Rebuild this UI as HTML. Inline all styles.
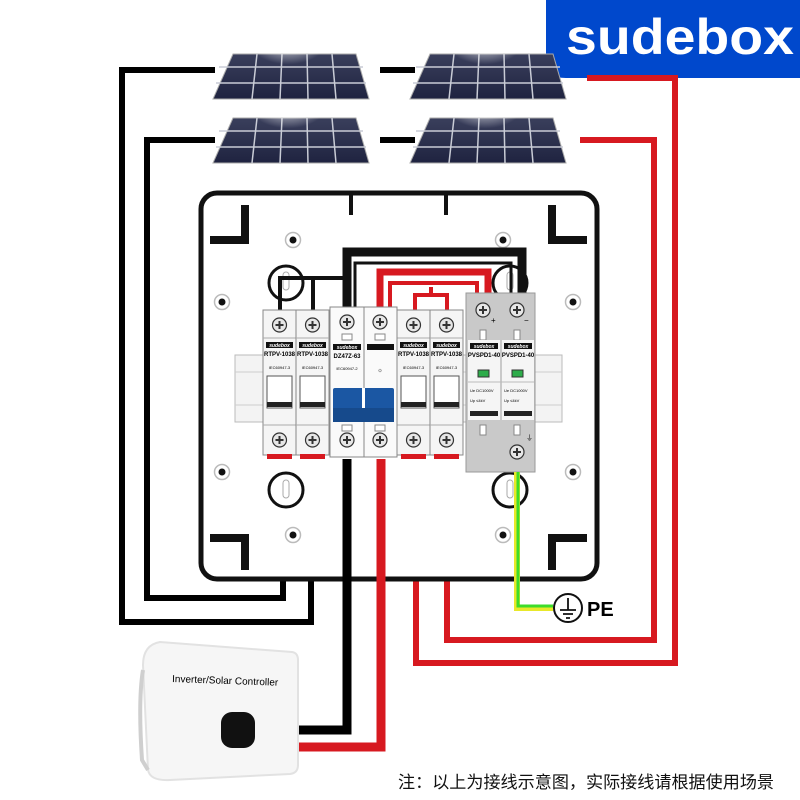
<!DOCTYPE html>
<html><head><meta charset="utf-8"><style>
html,body{margin:0;padding:0;background:#fff;}
svg{display:block;font-family:"Liberation Sans","Noto Sans CJK SC",sans-serif;}
</style></head><body>
<svg width="800" height="800" viewBox="0 0 800 800" xmlns="http://www.w3.org/2000/svg">
<defs>
<linearGradient id="pv" x1="0" y1="0" x2="0" y2="1"><stop offset="0" stop-color="#3a3f5c"/><stop offset="1" stop-color="#1f2340"/></linearGradient>
<radialGradient id="glare" cx="0.5" cy="0" r="0.6"><stop offset="0" stop-color="#fff" stop-opacity="0.95"/><stop offset="1" stop-color="#fff" stop-opacity="0"/></radialGradient>
<g id="screw"><circle r="7" fill="#e6e6e6" stroke="#333" stroke-width="1.2"/><path d="M-4 0H4M0 -4V4" stroke="#333" stroke-width="2"/></g>
<g id="hole"><circle r="7.5" fill="#fff" stroke="#bbb" stroke-width="1.5"/><circle r="3.5" fill="#111"/></g>
<g id="panel">
<polygon points="20,0 143,0 156,45 0,45" fill="url(#pv)" stroke="#aaa" stroke-width="1"/>
<path d="M6,13H150M3,29H153M44,0L39,45M69,0L67,45M94,0L95,45M119,0L123,45" stroke="#c9ccd6" stroke-width="1.5" fill="none"/>
<ellipse cx="75" cy="6" rx="34" ry="22" fill="url(#glare)"/>
</g>
</defs>

<!-- logo -->
<path d="M546,0H800V78H566Q546,78 546,58Z" fill="#0048cc"/>
<text x="566" y="54" fill="#fff" font-size="50" font-weight="bold" textLength="228" lengthAdjust="spacingAndGlyphs">sudebox</text>

<!-- top wires -->
<path d="M215,70H122V622H311V460" fill="none" stroke="#000" stroke-width="6"/>
<path d="M215,140H147V598H283V460" fill="none" stroke="#000" stroke-width="6"/>
<path d="M380,70H415M380,140H415" stroke="#000" stroke-width="6"/>
<path d="M587,78H675V663H416V460" fill="none" stroke="#d71920" stroke-width="6"/>
<path d="M580,140H654V640H447V460" fill="none" stroke="#d71920" stroke-width="6"/>

<!-- panels -->
<use href="#panel" x="213" y="54"/>
<use href="#panel" x="410" y="54"/>
<use href="#panel" x="213" y="118"/>
<use href="#panel" x="410" y="118"/>

<!-- enclosure -->
<rect x="201" y="193" width="396" height="386" rx="16" fill="#fff" stroke="#111" stroke-width="5"/>
<path d="M351,193V215M446,193V215" stroke="#111" stroke-width="4"/>
<path d="M210,240H245V205" fill="none" stroke="#111" stroke-width="8"/>
<path d="M552,205V240H587" fill="none" stroke="#111" stroke-width="8"/>
<path d="M210,538H245V570" fill="none" stroke="#111" stroke-width="8"/>
<path d="M552,570V538H587" fill="none" stroke="#111" stroke-width="8"/>
<use href="#hole" x="293" y="240"/><use href="#hole" x="503" y="240"/>
<use href="#hole" x="222" y="302"/><use href="#hole" x="573" y="302"/>
<use href="#hole" x="222" y="472"/><use href="#hole" x="573" y="472"/>
<use href="#hole" x="293" y="535"/><use href="#hole" x="503" y="535"/>
<g fill="none" stroke="#111" stroke-width="3">
<circle cx="286" cy="283" r="17"/><circle cx="286" cy="490" r="17"/>
<circle cx="510" cy="283" r="17"/><circle cx="510" cy="490" r="17"/>
</g>
<g fill="#fff" stroke="#aaa" stroke-width="1"><rect x="283" y="272" width="6" height="18" rx="3"/><rect x="283" y="480" width="6" height="18" rx="3"/><rect x="507" y="272" width="6" height="18" rx="3"/><rect x="507" y="480" width="6" height="18" rx="3"/></g>

<!-- internal wires -->
<path d="M280,310V278H343M313,310V278" fill="none" stroke="#111" stroke-width="4"/>
<path d="M347,308V252H522V295" fill="none" stroke="#111" stroke-width="9"/>
<path d="M355,308V263H511V293" fill="none" stroke="#111" stroke-width="3"/>
<path d="M380,308V272H488V295" fill="none" stroke="#d71920" stroke-width="7"/>
<path d="M390,308V283H477V295" fill="none" stroke="#d71920" stroke-width="4"/>
<path d="M415,310V295H447V310M431,295V287" fill="none" stroke="#d71920" stroke-width="4"/>

<!-- DIN rail -->
<rect x="235" y="355" width="327" height="67" fill="#f3f3f3" stroke="#bbb"/>
<path d="M235,372H562M235,405H562" stroke="#ccc"/>

<!-- breakers -->
<g transform="translate(263,0)">
<rect x="0" y="310" width="33" height="145" fill="#f5f5f5" stroke="#888"/>
<use href="#screw" x="16.5" y="325"/>
<line x1="0" y1="338" x2="33" y2="338" stroke="#aaa"/>
<rect x="3" y="342" width="27" height="6" fill="#111"/>
<text x="16.5" y="347" font-size="5" fill="#fff" text-anchor="middle" font-weight="bold" font-style="italic">sudebox</text>
<text x="16.5" y="356" font-size="6" text-anchor="middle" font-weight="bold">RTPV-1038</text>
<text x="16.5" y="369" font-size="4" text-anchor="middle">IEC60947-3</text>
<rect x="4" y="376" width="25" height="32" fill="#fff" stroke="#555"/>
<rect x="4" y="402" width="25" height="5" fill="#222"/>
<line x1="0" y1="425" x2="33" y2="425" stroke="#aaa"/>
<use href="#screw" x="16.5" y="440"/>
<rect x="4" y="454" width="25" height="5" fill="#d71920"/>
</g>
<g transform="translate(296,0)">
<rect x="0" y="310" width="33" height="145" fill="#f5f5f5" stroke="#888"/>
<use href="#screw" x="16.5" y="325"/>
<line x1="0" y1="338" x2="33" y2="338" stroke="#aaa"/>
<rect x="3" y="342" width="27" height="6" fill="#111"/>
<text x="16.5" y="347" font-size="5" fill="#fff" text-anchor="middle" font-weight="bold" font-style="italic">sudebox</text>
<text x="16.5" y="356" font-size="6" text-anchor="middle" font-weight="bold">RTPV-1038</text>
<text x="16.5" y="369" font-size="4" text-anchor="middle">IEC60947-3</text>
<rect x="4" y="376" width="25" height="32" fill="#fff" stroke="#555"/>
<rect x="4" y="402" width="25" height="5" fill="#222"/>
<line x1="0" y1="425" x2="33" y2="425" stroke="#aaa"/>
<use href="#screw" x="16.5" y="440"/>
<rect x="4" y="454" width="25" height="5" fill="#d71920"/>
</g>
<g transform="translate(397,0)">
<rect x="0" y="310" width="33" height="145" fill="#f5f5f5" stroke="#888"/>
<use href="#screw" x="16.5" y="325"/>
<line x1="0" y1="338" x2="33" y2="338" stroke="#aaa"/>
<rect x="3" y="342" width="27" height="6" fill="#111"/>
<text x="16.5" y="347" font-size="5" fill="#fff" text-anchor="middle" font-weight="bold" font-style="italic">sudebox</text>
<text x="16.5" y="356" font-size="6" text-anchor="middle" font-weight="bold">RTPV-1038</text>
<text x="16.5" y="369" font-size="4" text-anchor="middle">IEC60947-3</text>
<rect x="4" y="376" width="25" height="32" fill="#fff" stroke="#555"/>
<rect x="4" y="402" width="25" height="5" fill="#222"/>
<line x1="0" y1="425" x2="33" y2="425" stroke="#aaa"/>
<use href="#screw" x="16.5" y="440"/>
<rect x="4" y="454" width="25" height="5" fill="#d71920"/>
</g>
<g transform="translate(430,0)">
<rect x="0" y="310" width="33" height="145" fill="#f5f5f5" stroke="#888"/>
<use href="#screw" x="16.5" y="325"/>
<line x1="0" y1="338" x2="33" y2="338" stroke="#aaa"/>
<rect x="3" y="342" width="27" height="6" fill="#111"/>
<text x="16.5" y="347" font-size="5" fill="#fff" text-anchor="middle" font-weight="bold" font-style="italic">sudebox</text>
<text x="16.5" y="356" font-size="6" text-anchor="middle" font-weight="bold">RTPV-1038</text>
<text x="16.5" y="369" font-size="4" text-anchor="middle">IEC60947-3</text>
<rect x="4" y="376" width="25" height="32" fill="#fff" stroke="#555"/>
<rect x="4" y="402" width="25" height="5" fill="#222"/>
<line x1="0" y1="425" x2="33" y2="425" stroke="#aaa"/>
<use href="#screw" x="16.5" y="440"/>
<rect x="4" y="454" width="25" height="5" fill="#d71920"/>
</g>

<!-- DC breaker -->
<rect x="330" y="307" width="34" height="150" fill="#fafafa" stroke="#888"/>
<rect x="364" y="307" width="33" height="150" fill="#fafafa" stroke="#888"/>
<use href="#screw" x="347" y="322"/><use href="#screw" x="380" y="322"/>
<rect x="342" y="334" width="10" height="6" fill="#fff" stroke="#888"/><rect x="375" y="334" width="10" height="6" fill="#fff" stroke="#888"/>
<rect x="333" y="344" width="28" height="6" fill="#111"/>
<text x="347" y="349" font-size="5" fill="#fff" text-anchor="middle" font-weight="bold" font-style="italic">sudebox</text>
<rect x="367" y="344" width="27" height="6" fill="#111"/>
<text x="347" y="358" font-size="6" text-anchor="middle" font-weight="bold">DZ47Z-63</text>
<text x="347" y="370" font-size="4" text-anchor="middle">IEC60947-2</text>
<text x="380" y="372" font-size="6" text-anchor="middle">☼</text>
<rect x="333" y="388" width="61" height="34" rx="2" fill="#1b57a3"/>
<rect x="362" y="388" width="3" height="20" fill="#fff"/>
<rect x="333" y="408" width="61" height="14" fill="#164a8c"/>
<rect x="342" y="425" width="10" height="6" fill="#fff" stroke="#888"/><rect x="375" y="425" width="10" height="6" fill="#fff" stroke="#888"/>
<use href="#screw" x="347" y="440"/><use href="#screw" x="380" y="440"/>

<!-- SPD -->
<rect x="466" y="293" width="69" height="179" fill="#c9c9c9" stroke="#999"/>
<use href="#screw" x="483" y="310"/><use href="#screw" x="517" y="310"/>
<text x="491" y="323" font-size="8">+</text><text x="524" y="323" font-size="8">−</text>
<rect x="480" y="330" width="6" height="10" fill="#fff" stroke="#888"/><rect x="514" y="330" width="6" height="10" fill="#fff" stroke="#888"/>
<rect x="468" y="340" width="32" height="80" fill="#f5f5f5"/><rect x="502" y="340" width="32" height="80" fill="#f5f5f5"/>
<rect x="470" y="343" width="28" height="6" fill="#111"/><rect x="504" y="343" width="28" height="6" fill="#111"/>
<text x="484" y="348" font-size="5" fill="#fff" text-anchor="middle" font-weight="bold" font-style="italic">sudebox</text>
<text x="518" y="348" font-size="5" fill="#fff" text-anchor="middle" font-weight="bold" font-style="italic">sudebox</text>
<text x="484" y="357" font-size="6" text-anchor="middle" font-weight="bold">PVSPD1-40</text>
<text x="518" y="357" font-size="6" text-anchor="middle" font-weight="bold">PVSPD1-40</text>
<rect x="478" y="370" width="11" height="7" fill="#2dac4a" stroke="#333"/><rect x="512" y="370" width="11" height="7" fill="#2dac4a" stroke="#333"/>
<path d="M468,382H534" stroke="#bbb"/>
<text x="470" y="392" font-size="4">Ue DC1000V</text><text x="504" y="392" font-size="4">Ue DC1000V</text>
<text x="470" y="402" font-size="4">Up ≤4kV</text><text x="504" y="402" font-size="4">Up ≤4kV</text>
<rect x="470" y="411" width="28" height="5" fill="#222"/><rect x="504" y="411" width="28" height="5" fill="#222"/>
<rect x="480" y="425" width="6" height="10" fill="#fff" stroke="#888"/><rect x="514" y="425" width="6" height="10" fill="#fff" stroke="#888"/>
<use href="#screw" x="517" y="452"/>
<text x="526" y="440" font-size="7">⏚</text>

<!-- bottom wires to inverter -->
<path d="M347,459V730H297" fill="none" stroke="#000" stroke-width="9"/>
<path d="M381,459V747H297" fill="none" stroke="#d71920" stroke-width="9"/>
<!-- PE wire -->
<path d="M517,472V608H553" fill="none" stroke="#e8e82a" stroke-width="6"/>
<path d="M518,472V606H553" fill="none" stroke="#3ddc2a" stroke-width="3"/>
<circle cx="568" cy="608" r="14" fill="#fff" stroke="#111" stroke-width="2"/>
<path d="M568,598V610M560,610H576M563,614H573M566,618H570" stroke="#111" stroke-width="1.8"/>
<text x="587" y="616" font-size="20" font-weight="bold">PE</text>

<!-- inverter -->
<path d="M143,665Q143,645 160,642L292,652Q298,653 298,660V765Q298,773 290,774L170,780Q150,781 148,770Z" fill="#f6f6f6" stroke="#e2e2e2" stroke-width="2"/>
<path d="M143,670Q138,700 142,760L148,770" fill="none" stroke="#cfcfcf" stroke-width="4"/>
<text x="172" y="682" font-size="10" transform="rotate(2 172 682)">Inverter/Solar Controller</text>
<rect x="221" y="712" width="34" height="36" rx="11" fill="#111"/>

<text x="398" y="788" font-size="17" fill="#111" textLength="376" lengthAdjust="spacingAndGlyphs">注：以上为接线示意图，实际接线请根据使用场景</text>
</svg>
</body></html>
